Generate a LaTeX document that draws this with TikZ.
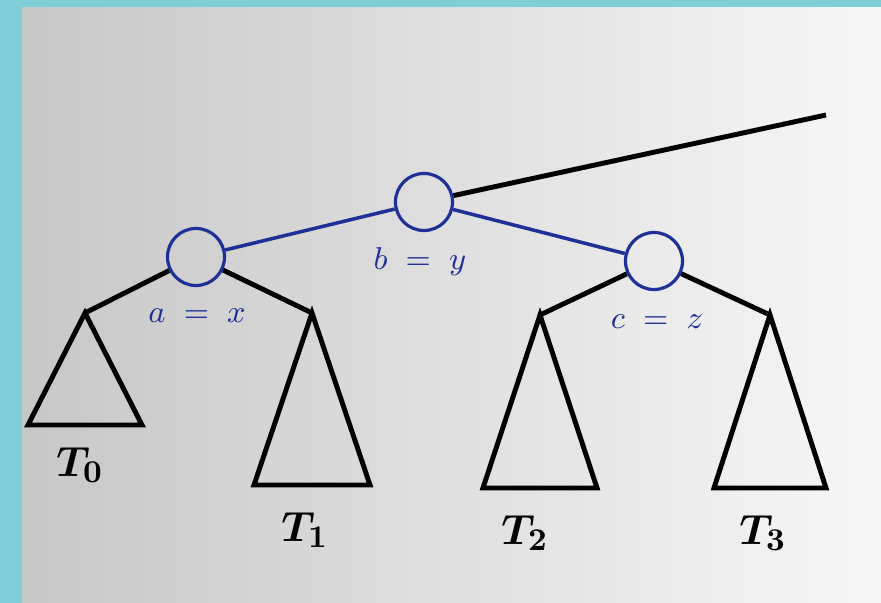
\documentclass[tikz,border=0pt]{standalone}
\usepackage{amsmath}
\usepackage{bm}
\usetikzlibrary{positioning,calc}
\definecolor{nodeblue}{RGB}{30,48,150}
\definecolor{pagecyan}{RGB}{125,207,216}
\tikzset{
  keynode/.style={circle, draw=nodeblue, line width=0.9pt, minimum size=5.7mm,
                  inner sep=0pt, fill=none},
  bluelink/.style={draw=nodeblue, line width=1pt},
  blacklink/.style={draw=black, line width=1.4pt},
  subtri/.style={draw=black, line width=1.4pt, line join=miter},
  keylab/.style={font=\fontsize{9}{10}\selectfont, text=nodeblue, inner sep=0pt},
  treelab/.style={font=\fontsize{13}{14}\selectfont, inner sep=0pt},
}
% subtree triangle: name, apex x, apex y, half width, base y
\newcommand{\subtree}[5]{%
  \coordinate (#1) at (#2,#3);%
  \draw[subtri] (#1) -- ++(-#4,#5-#3) -- ++(2*#4,0) -- cycle;%
}

\begin{document}
\begin{tikzpicture}[x=0.01cm,y=0.01cm]
\useasboundingbox (0,0) rectangle (881,603);
\fill[pagecyan] (0,0) rectangle (881,603);
\shade[left color=black!22, right color=black!3] (22,0) rectangle (881,595);
% the three keys
\node[keynode] (b) at (424,401) {};
\node[keynode] (a) at (196,346) {};
\node[keynode] (c) at (654,342) {};
\coordinate (up) at (826,488);
\draw[blacklink] (b) -- (up);
\draw[bluelink] (b) -- (a);
\draw[bluelink] (b) -- (c);
% subtrees
\subtree{t0}{85}{290}{57}{178}
\subtree{t1}{312}{290}{58}{118}
\subtree{t2}{540}{288}{57}{115}
\subtree{t3}{770}{288}{56}{115}
\draw[blacklink] (a) -- (t0);
\draw[blacklink] (a) -- (t1);
\draw[blacklink] (c) -- (t2);
\draw[blacklink] (c) -- (t3);
\node[keylab] (la) at (197,287) {$a \;=\; x$};
\node[keylab] (lb) at (420,341) {$b \;=\; y$};
\node[keylab] (lc) at (657,281) {$c \;=\; z$};
\node[treelab] (n0) at (80,138) {$\bm{T}_{\bm{0}}$};
\node[treelab] (n1) at (305,73) {$\bm{T}_{\bm{1}}$};
\node[treelab] (n2) at (525,70) {$\bm{T}_{\bm{2}}$};
\node[treelab] (n3) at (763,70) {$\bm{T}_{\bm{3}}$};
\end{tikzpicture}
\end{document}
